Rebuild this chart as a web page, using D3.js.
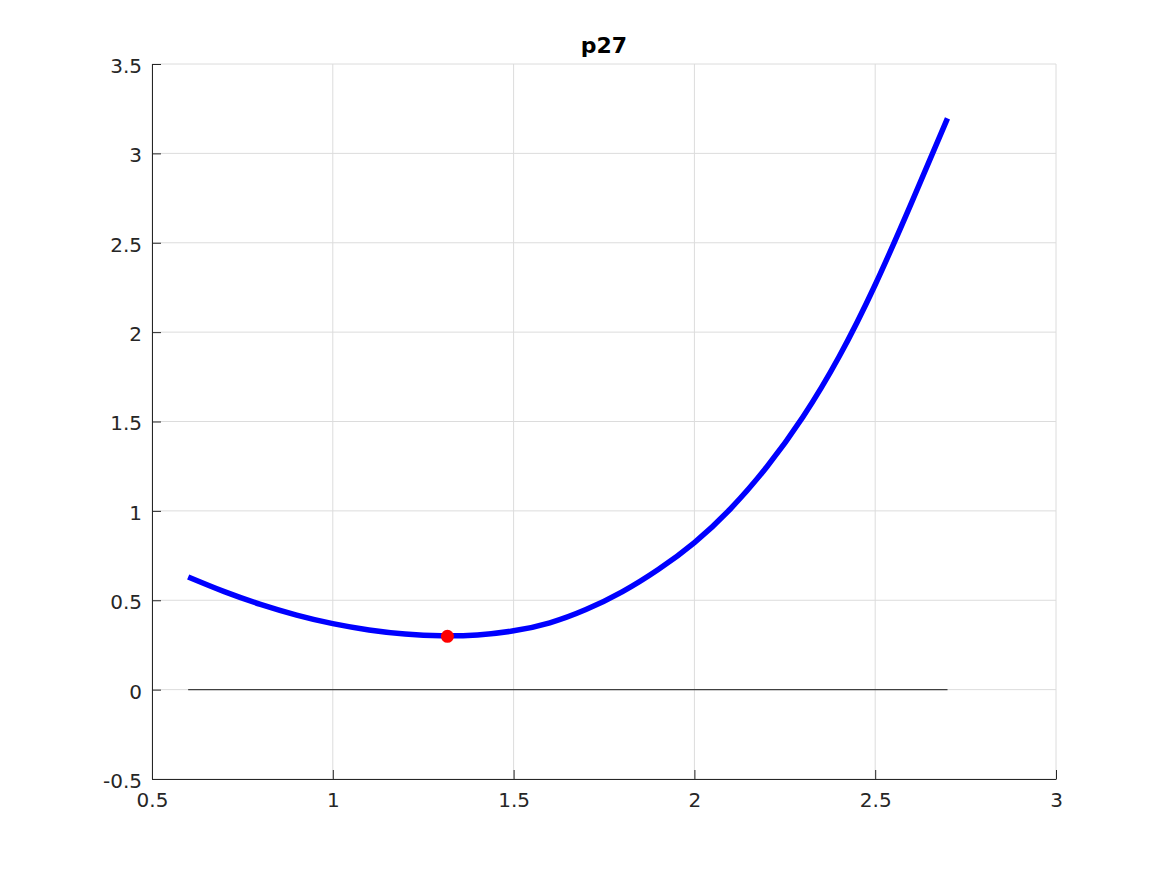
<!DOCTYPE html>
<html>
<head>
<meta charset="utf-8">
<script src="https://cdn.jsdelivr.net/npm/d3@7"></script>
<style>
  body { margin: 0; background: #fff; }
  svg { display: block; font-family: "DejaVu Sans", sans-serif; }
</style>
</head>
<body>
<svg id="chart" width="1167" height="875"></svg>
<script>
// ---- data ----
var titleText = "p27";
var curveX = [0.6, 0.7, 0.8, 0.9, 1.0, 1.1, 1.2, 1.3, 1.4, 1.5, 1.6, 1.7, 1.8, 1.9, 2.0, 2.1, 2.2, 2.3, 2.4, 2.5, 2.6, 2.7];
var curveY = [0.630, 0.548, 0.477, 0.417, 0.369, 0.334, 0.311, 0.301, 0.306, 0.329, 0.374, 0.448, 0.547, 0.672, 0.823, 1.012, 1.245, 1.525, 1.862, 2.265, 2.722, 3.196];
var minPoint = [1.317, 0.298];
var zeroLineX = [0.6, 2.7];
var xTicks = [0.5, 1, 1.5, 2, 2.5, 3];
var yTicks = [-0.5, 0, 0.5, 1, 1.5, 2, 2.5, 3, 3.5];

// ---- layout ----
var svg = d3.select("#chart");
var margin = { left: 152, right: 1167 - 1056, top: 64, bottom: 875 - 779 };
var width = 1167 - margin.left - margin.right;
var height = 875 - margin.top - margin.bottom;

var x = d3.scaleLinear().domain([0.5, 3]).range([0, width]);
var y = d3.scaleLinear().domain([-0.5, 3.5]).range([height, 0]);

var g = svg.append("g").attr("transform", "translate(" + margin.left + "," + margin.top + ")");

// grid
g.append("g").selectAll("line")
  .data(xTicks).enter().append("line")
  .attr("x1", d => x(d)).attr("x2", d => x(d))
  .attr("y1", 0).attr("y2", height)
  .attr("stroke", "#dcdcdc").attr("stroke-width", 1);
g.append("g").selectAll("line")
  .data(yTicks).enter().append("line")
  .attr("x1", 0).attr("x2", width)
  .attr("y1", d => y(d)).attr("y2", d => y(d))
  .attr("stroke", "#dcdcdc").attr("stroke-width", 1);

// axes (box off, ticks inside)
var xAxis = d3.axisBottom(x).tickValues(xTicks).tickFormat(d3.format("")).tickSizeInner(-9).tickSizeOuter(0).tickPadding(14);
var yAxis = d3.axisLeft(y).tickValues(yTicks).tickFormat(d => d < 0 ? "-" + Math.abs(d) : String(d)).tickSizeInner(-9).tickSizeOuter(0).tickPadding(10);

var gx = g.append("g").attr("transform", "translate(0," + height + ")").call(xAxis);
var gy = g.append("g").call(yAxis);
[gx, gy].forEach(function (a) {
  a.selectAll("path").attr("stroke", "#262626").attr("stroke-width", 1);
  a.selectAll("line").attr("stroke", "#262626").attr("stroke-width", 1);
  a.selectAll("text").attr("fill", "#262626").style("font-size", "20px").style("font-family", "DejaVu Sans, sans-serif");
});
gy.selectAll("text").attr("dy", "0.42em");

// zero reference line
g.append("line")
  .attr("x1", x(zeroLineX[0])).attr("x2", x(zeroLineX[1]))
  .attr("y1", y(0)).attr("y2", y(0))
  .attr("stroke", "#404040").attr("stroke-width", 1.2);

// curve
var pts = curveX.map((d, i) => ({ x: d, y: curveY[i] }));
g.append("path")
  .datum(pts)
  .attr("d", d3.line().x(d => x(d.x)).y(d => y(d.y)).curve(d3.curveNatural))
  .attr("fill", "none")
  .attr("stroke", "#0000ff")
  .attr("stroke-width", 5.5);

// minimum marker
g.append("circle")
  .attr("cx", x(minPoint[0])).attr("cy", y(minPoint[1]))
  .attr("r", 6.5)
  .attr("fill", "#ff0000");

// title
svg.append("text")
  .attr("x", margin.left + width / 2)
  .attr("y", 53)
  .attr("text-anchor", "middle")
  .style("font-size", "22px")
  .style("font-weight", "bold")
  .attr("fill", "#000")
  .text(titleText);
</script>
</body>
</html>
